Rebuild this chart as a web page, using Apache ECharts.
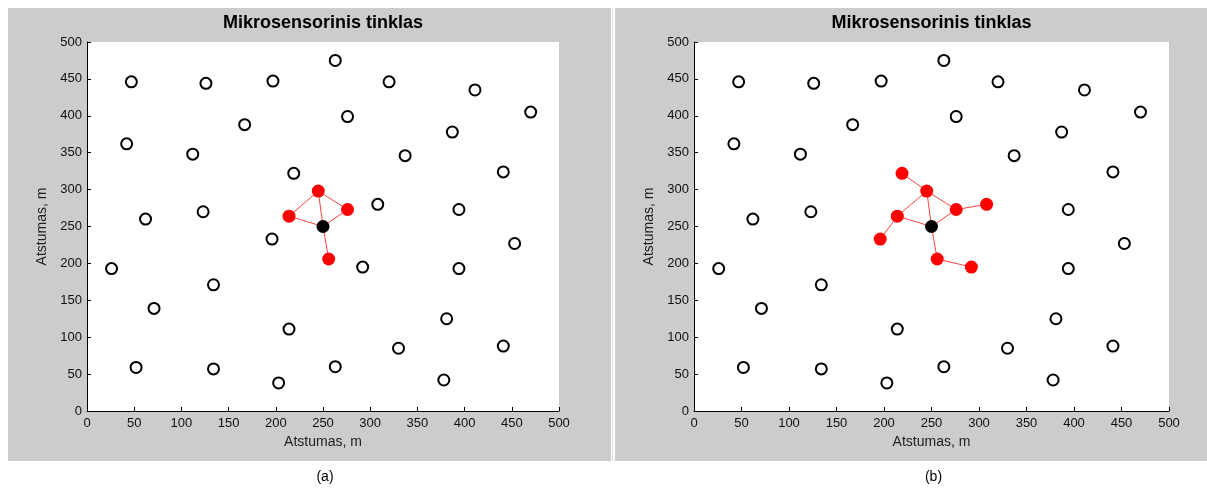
<!DOCTYPE html>
<html>
<head>
<meta charset="utf-8">
<script src="https://cdn.jsdelivr.net/npm/echarts@6/dist/echarts.min.js"></script>
<style>
  html, body { margin: 0; padding: 0; background: #fff; }
  #chart { width: 1207px; height: 488px; }
</style>
</head>
<body>
<div id="chart"></div>
<script>
// Sensor node positions (m)
const nodeX = [47, 126, 197, 263, 320, 411, 470, 167, 276, 387,
               42, 112, 337, 441, 219, 245, 308, 276, 394, 214,
               123, 62, 250, 196, 453, 256, 26, 292, 394, 134,
               71, 214, 381, 441, 330, 52, 134, 263, 203, 378];
const nodeY = [446, 444, 447, 475, 446, 435, 405, 388, 399, 378,
               362, 348, 346, 324, 322, 298, 280, 273, 273, 264,
               270, 260, 250, 233, 227, 206, 193, 195, 193, 171,
               139, 111, 125, 88, 85, 59, 57, 60, 38, 42];

// Index of the source node (black)
const sinkNode = 22;

// Nodes reached and links drawn in each network state
const reachedA = [15, 17, 19, 25];
const linksA = [[22, 15], [22, 17], [22, 19], [22, 25], [19, 15], [15, 17]];
const reachedB = [14, 15, 16, 17, 19, 23, 25, 27];
const linksB = [[22, 15], [22, 17], [22, 19], [22, 25], [19, 15], [15, 17],
                [14, 15], [17, 16], [19, 23], [25, 27]];

const titleText = 'Mikrosensorinis tinklas';
const axisName = 'Atstumas, m';
const panelLabels = ['(a)', '(b)'];
const tickStep = 50;
const axisMax = 500;

const FONT = '"Liberation Sans", Arial, Helvetica, sans-serif';

const chart = echarts.init(document.getElementById('chart'), null, { renderer: 'canvas' });

// Panel geometry
const panels = [
  { bgX: 8,   grid: { left: 87,  top: 42, width: 472, height: 369 } },
  { bgX: 615, grid: { left: 694, top: 42, width: 475, height: 369 } }
];

function pt(i) { return [nodeX[i], nodeY[i]]; }

function makeAxis(idx, isX) {
  return {
    type: 'value',
    gridIndex: idx,
    min: 0,
    max: axisMax,
    interval: tickStep,
    name: axisName,
    nameLocation: 'middle',
    nameGap: isX ? 24 : 38,
    nameTextStyle: { fontFamily: FONT, fontSize: 14, color: '#222' },
    axisLine: { show: true, onZero: false, lineStyle: { color: '#000', width: 1 } },
    axisTick: { show: true, inside: true, length: 4, lineStyle: { color: '#000' } },
    axisLabel: { fontFamily: FONT, fontSize: 13, color: '#111', margin: isX ? 6 : 5,
                 showMinLabel: true, showMaxLabel: true },
    splitLine: { show: false }
  };
}

const series = [];
const graphics = [];
const states = [
  { reached: reachedA, links: linksA },
  { reached: reachedB, links: linksB }
];

states.forEach((st, k) => {
  const reachedSet = new Set(st.reached);
  const openPts = [];
  nodeX.forEach((x, i) => {
    if (i !== sinkNode && !reachedSet.has(i)) openPts.push(pt(i));
  });
  series.push({
    type: 'lines',
    coordinateSystem: 'cartesian2d',
    xAxisIndex: k, yAxisIndex: k,
    polyline: false,
    silent: true,
    z: 2,
    lineStyle: { color: '#ff2020', width: 1, opacity: 0.85 },
    data: st.links.map(l => ({ coords: [pt(l[0]), pt(l[1])] }))
  });
  series.push({
    type: 'scatter',
    xAxisIndex: k, yAxisIndex: k,
    symbol: 'circle',
    symbolSize: 11,
    z: 3,
    itemStyle: { color: '#fff', borderColor: '#000', borderWidth: 2, opacity: 1 },
    data: openPts
  });
  series.push({
    type: 'scatter',
    xAxisIndex: k, yAxisIndex: k,
    symbol: 'circle',
    symbolSize: 13,
    z: 4,
    itemStyle: { color: '#ff0000', opacity: 1 },
    data: st.reached.map(pt)
  });
  series.push({
    type: 'scatter',
    xAxisIndex: k, yAxisIndex: k,
    symbol: 'circle',
    symbolSize: 13,
    z: 5,
    itemStyle: { color: '#000', opacity: 1 },
    data: [pt(sinkNode)]
  });

  const p = panels[k];
  const cx = p.grid.left + p.grid.width / 2;
  graphics.push({
    type: 'rect', z: -1, silent: true,
    shape: { x: p.bgX, y: 8, width: 603, height: 453 },
    style: { fill: '#cccccc' }
  });
  graphics.push({
    type: 'text', z: 10, silent: true,
    x: cx, y: 23,
    style: { text: titleText, font: 'bold 18px ' + FONT, fill: '#000',
             align: 'center', verticalAlign: 'middle' }
  });
  graphics.push({
    type: 'text', z: 10, silent: true,
    x: cx + 2, y: 477,
    style: { text: panelLabels[k], font: '14px ' + FONT, fill: '#000',
             align: 'center', verticalAlign: 'middle' }
  });
});

// Thin separator between the two panels
graphics.push({
  type: 'rect', z: 0, silent: true,
  shape: { x: 612, y: 8, width: 1, height: 453 },
  style: { fill: '#dddddd' }
});

chart.setOption({
  backgroundColor: '#ffffff',
  animation: false,
  grid: panels.map(p => Object.assign({
    show: true, backgroundColor: '#ffffff', borderWidth: 0, containLabel: false
  }, p.grid)),
  xAxis: [makeAxis(0, true), makeAxis(1, true)],
  yAxis: [makeAxis(0, false), makeAxis(1, false)],
  graphic: graphics,
  series: series
});
</script>
</body>
</html>
